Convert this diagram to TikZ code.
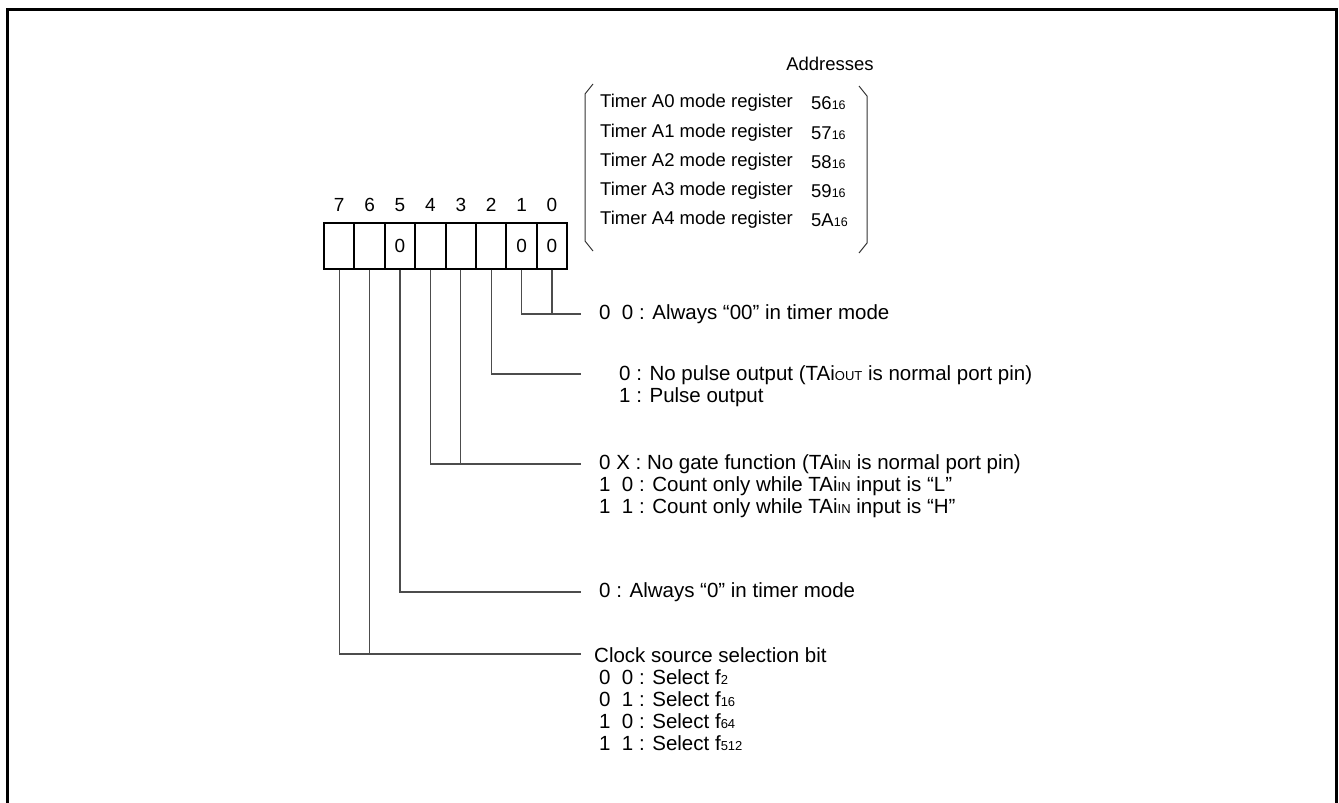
\documentclass[tikz,border=0pt]{standalone}
\usepackage{fontspec}
\setmainfont{Liberation Sans}
\newcommand\smtxt[1]{{\fontsize{13}{13}\selectfont #1}}
\newcommand\smreg[1]{{\fontsize{12.5}{13}\selectfont #1}}
\begin{document}
\begin{tikzpicture}[x=1pt,y=-1pt,
  txt/.style={font=\fontsize{20.5}{22}\selectfont, inner sep=0pt, anchor=west},
  reg/.style={font=\fontsize{18.5}{21}\selectfont, inner sep=0pt, anchor=west},
  bitlbl/.style={font=\fontsize{19}{21}\selectfont, inner sep=0pt},
  cellbox/.style={draw, line width=2pt, minimum width=30.4pt, minimum height=45.5pt, inner sep=0pt, anchor=north west, font=\fontsize{19}{21}\selectfont},
  conn/.style={draw=black!70, line width=1.1pt},
  brk/.style={draw=black!80, line width=1pt},
  frame/.style={line width=3pt}]
\useasboundingbox (0,0) rectangle (1339,803);
\draw[frame] (7,815) -- (7,9) -- (1336,9) -- (1336,815);

% addresses block
\node[reg, anchor=center] (addr) at (830,64) {Addresses};
\node[reg] (r0) at (600,103) {Timer A0 mode register};
\node[reg] (r1) at (600,133) {Timer A1 mode register};
\node[reg] (r2) at (600,162) {Timer A2 mode register};
\node[reg] (r3) at (600,191) {Timer A3 mode register};
\node[reg] (r4) at (600,220) {Timer A4 mode register};
\node[reg] (a0) at (811,103) {56\smreg{16}};
\node[reg] (a1) at (811,133) {57\smreg{16}};
\node[reg] (a2) at (811,162) {58\smreg{16}};
\node[reg] (a3) at (811,191) {59\smreg{16}};
\node[reg] (a4) at (811,220) {5A\smreg{16}};
\draw[brk] (593,84) -- (585,94) -- (585,241) -- (593,251);
\draw[brk] (859,86) -- (867,96) -- (867,243) -- (859,253);

% register cells
\node[cellbox] (c7) at (323.0,222) {};
\node[cellbox] (c6) at (353.4,222) {};
\node[cellbox] (c5) at (383.8,222) {0};
\node[cellbox] (c4) at (414.2,222) {};
\node[cellbox] (c3) at (444.6,222) {};
\node[cellbox] (c2) at (475.0,222) {};
\node[cellbox] (c1) at (505.4,222) {0};
\node[cellbox] (c0) at (535.8,222) {0};
\foreach \i in {0,...,7} {
  \node[bitlbl, anchor=center] (b\i) at ([yshift=17pt]c\i.north) {\i};
}

% descriptions
\node[txt] (t00) at (599,314) {0\ \ 0 : Always “00” in timer mode};
\node[txt] (t2a) at (619,375) {0 : No pulse output (TAi\smtxt{OUT} is normal port pin)};
\node[txt] (t2b) at (619,397) {1 : Pulse output};
\node[txt] (t34a) at (599,464) {0 X : No gate function (TAi\smtxt{IN} is normal port pin)};
\node[txt] (t34b) at (599,486) {1\ \ 0 : Count only while TAi\smtxt{IN} input is “L”};
\node[txt] (t34c) at (599,508) {1\ \ 1 : Count only while TAi\smtxt{IN} input is “H”};
\node[txt] (t5) at (599,592) {0 : Always “0” in timer mode};
\node[txt] (t67) at (594,655) {Clock source selection bit};
\node[txt] (f2) at (599,677) {0\ \ 0 : Select f\smtxt{2}};
\node[txt] (f16) at (599,699) {0\ \ 1 : Select f\smtxt{16}};
\node[txt] (f64) at (599,721) {1\ \ 0 : Select f\smtxt{64}};
\node[txt] (f512) at (599,743) {1\ \ 1 : Select f\smtxt{512}};

% connector end points
\coordinate (e10) at (581,314);
\coordinate (e2) at (581,374);
\coordinate (e34) at (581,464);
\coordinate (e5) at (581,592);
\coordinate (e67) at (581,654);

\draw[conn] (c0.south) |- (e10);
\draw[conn] (c1.south) |- (e10);
\draw[conn] (c2.south) |- (e2);
\draw[conn] (c3.south) |- (e34);
\draw[conn] (c4.south) |- (e34);
\draw[conn] (c5.south) |- (e5);
\draw[conn] (c6.south) |- (e67);
\draw[conn] (c7.south) |- (e67);
\end{tikzpicture}
\end{document}
